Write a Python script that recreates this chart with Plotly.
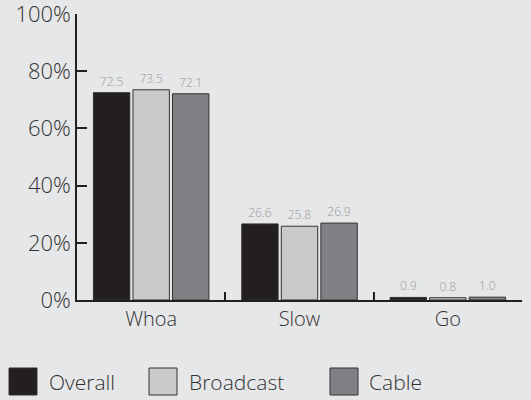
import plotly.graph_objects as go

categories = ["Whoa", "Slow", "Go"]
series_names = ["Overall", "Broadcast", "Cable"]
overall = [72.5, 26.6, 0.9]
broadcast = [73.5, 25.8, 0.8]
cable = [72.1, 26.9, 1.0]
y_ticks = [0, 20, 40, 60, 80, 100]
y_tick_labels = ["0%", "20%", "40%", "60%", "80%", "100%"]

colors = ["#231f20", "#c9cacc", "#808184"]
bg = "#e6e7e8"
font_family = "Open Sans"

# plot area in pixels
L, R, T, B = 77, 522, 14, 300
W, H = R - L, B - T


def px_x(p):
    return (p - L) / W


def px_y(p):
    return (B - p) / H


fig = go.Figure()
for name, vals, col in zip(series_names, [overall, broadcast, cable], colors):
    fig.add_trace(go.Bar(
        x=categories, y=vals, name=name,
        marker=dict(color=col, line=dict(color="#333333", width=1)),
        text=[f"{v:.1f}" for v in vals],
        textposition="outside",
        textfont=dict(family=font_family, size=12, color="#9a9a9a", weight=300),
        cliponaxis=False,
        showlegend=False,
    ))

fig.update_layout(
    width=531, height=400,
    margin=dict(l=L, r=531 - R, t=T, b=400 - B, autoexpand=False),
    paper_bgcolor=bg, plot_bgcolor=bg,
    barmode="group", bargap=0.2, bargroupgap=0.08,
    font=dict(family=font_family, color="#333333", weight=300),
    showlegend=False,
    uniformtext=dict(mode="show", minsize=10),
)
fig.update_yaxes(
    range=[0, 100], tickvals=y_ticks, ticktext=y_tick_labels,
    showgrid=False, zeroline=False, automargin=False,
    ticklabeloverflow="allow",
    showline=True, linecolor="#231f20", linewidth=1.5,
    ticks="inside", ticklen=10, tickwidth=1.5, tickcolor="#231f20",
    tickfont=dict(size=22, color="#333333", weight=300),
)
fig.update_xaxes(
    showgrid=False, zeroline=False, automargin=False,
    showline=True, linecolor="#231f20", linewidth=1.5,
    ticks="inside", tickson="boundaries", ticklen=8, tickwidth=1.5, tickcolor="#231f20",
    tickfont=dict(size=20, color="#333333", weight=300),
)

# legend drawn by hand with large squares
legend_box_x = [9, 149, 330]
legend_text_x = [47, 187, 367]
for name, col, bx, tx in zip(series_names, colors, legend_box_x, legend_text_x):
    fig.add_shape(type="rect", xref="paper", yref="paper",
                  x0=px_x(bx), x1=px_x(bx + 28), y0=px_y(395), y1=px_y(368),
                  fillcolor=col, line=dict(color="#333333", width=1))
    fig.add_annotation(text=name, x=px_x(tx), y=px_y(382), xref="paper", yref="paper",
                       xanchor="left", yanchor="middle", showarrow=False,
                       font=dict(size=21, color="#333333", weight=300))

fig.write_html("out.html", config={"displayModeBar": False},
               post_script="document.body.style.margin='0';")
